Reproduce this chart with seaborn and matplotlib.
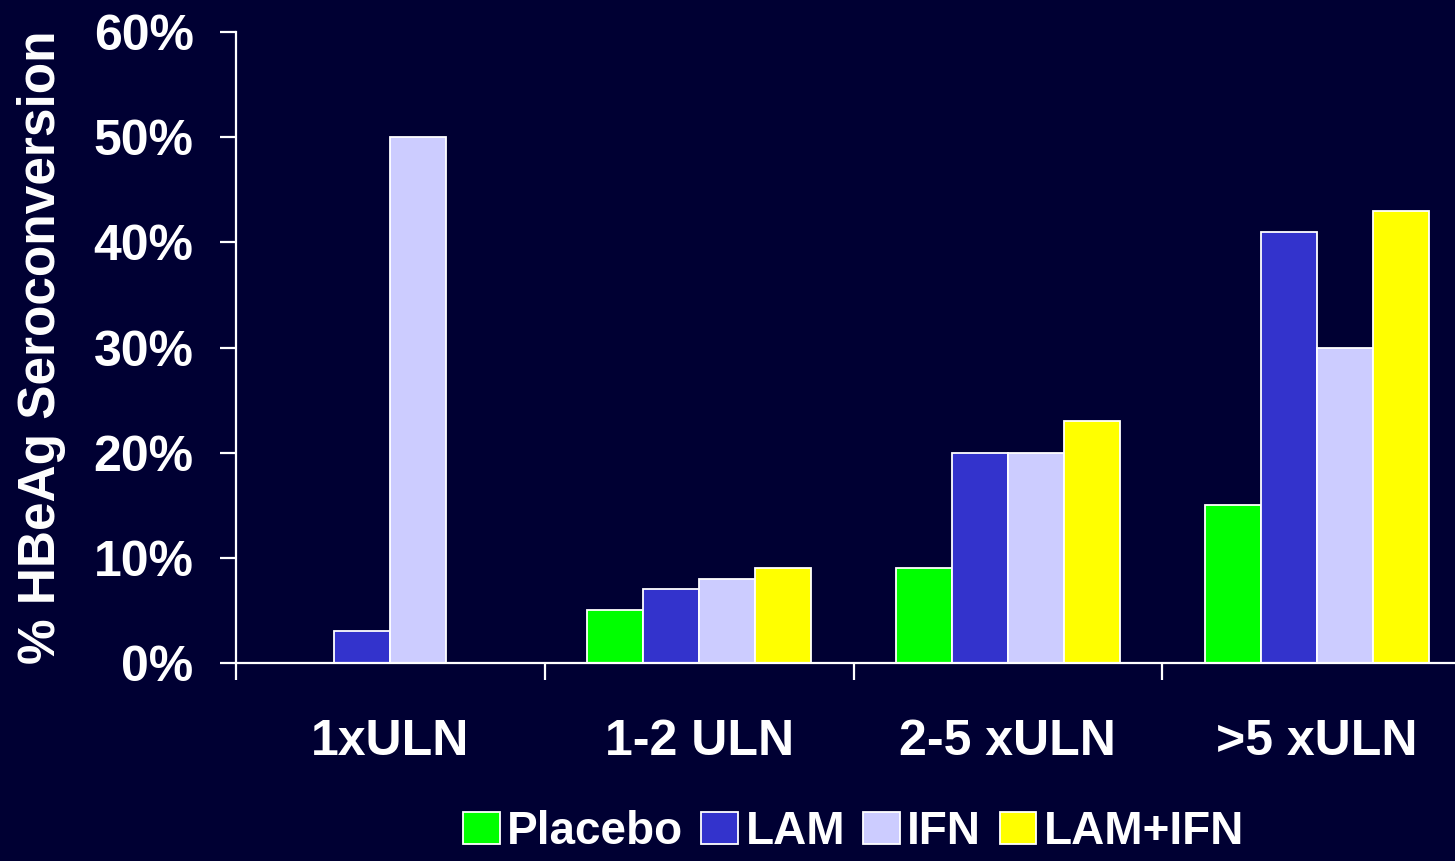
import numpy as np
import pandas as pd
import matplotlib
matplotlib.use("Agg")
import matplotlib.pyplot as plt
import seaborn as sns

# chart values (percent seroconversion)
categories = ["1xULN", "1-2 ULN", "2-5 xULN", ">5 xULN"]
treatments = ["Placebo", "LAM", "IFN", "LAM+IFN"]
placebo = [0, 5, 9, 15]
lam = [3, 7, 20, 41]
ifn = [50, 8, 20, 30]
lam_ifn = [0, 9, 23, 43]
y_ticks = [0, 10, 20, 30, 40, 50, 60]
y_tick_labels = ["0%", "10%", "20%", "30%", "40%", "50%", "60%"]

bg = "#000033"
colors = ["#00FF00", "#3333CC", "#CCCCFF", "#FFFF00"]

# long-form table for seaborn
rows = []
for name, vals in zip(treatments, [placebo, lam, ifn, lam_ifn]):
    for cat, v in zip(categories, vals):
        rows.append({"category": cat, "treatment": name, "value": v})
df = pd.DataFrame(rows)

sns.set_style("dark")
plt.rcParams["font.family"] = ["Liberation Sans", "DejaVu Sans"]
plt.rcParams["font.weight"] = "bold"

fig = plt.figure(figsize=(14.55, 8.61), dpi=100, facecolor=bg)
# axes deliberately runs a little past the right edge like the original slide
ax = fig.add_axes([236 / 1455, 198 / 861, 1235 / 1455, 631 / 861])
ax.set_facecolor(bg)

sns.barplot(
    data=df, x="category", y="value", hue="treatment",
    order=categories, hue_order=treatments, palette=colors, saturation=1,
    width=0.725, edgecolor="white", linewidth=1.3, ax=ax,
)

ax.set_xlim(-0.5, 3.5)
ax.set_ylim(0, 60)
ax.grid(False)

# spines
for side in ["top", "right"]:
    ax.spines[side].set_visible(False)
for side in ["left", "bottom"]:
    ax.spines[side].set_visible(True)
    ax.spines[side].set_color("white")
    ax.spines[side].set_linewidth(1.6)

# y axis
ax.set_yticks(y_ticks)
ax.set_yticklabels(y_tick_labels)
ax.tick_params(axis="y", colors="white", labelsize=36, length=11.5, width=1.6,
               pad=19, left=True, direction="out")
ax.set_ylabel("% HBeAg Seroconversion", color="white", fontsize=37, fontweight="bold")
ax.yaxis.set_label_coords(-0.138, 0.5)

# x axis: labels at centres, tick marks at group boundaries
ax.set_xticks(range(len(categories)))
ax.set_xticklabels(categories)
ax.tick_params(axis="x", which="major", colors="white", labelsize=36, length=0, pad=40)
ax.set_xticks(np.arange(-0.5, len(categories), 1.0), minor=True)
ax.tick_params(axis="x", which="minor", colors="white", length=12.5, width=1.6,
               bottom=True, direction="out")
ax.set_xlabel("")

# legend along the bottom
handles, labels = ax.get_legend_handles_labels()
ax.legend(
    handles, labels, loc="center", bbox_to_anchor=(0.5, -0.268), ncol=4,
    frameon=False, handlelength=0.8, handleheight=0.7,
    handletextpad=0.16, columnspacing=0.4, labelcolor="white",
    prop={"weight": "bold", "size": 33},
)

fig.savefig("out.png", dpi=100, facecolor=bg)
